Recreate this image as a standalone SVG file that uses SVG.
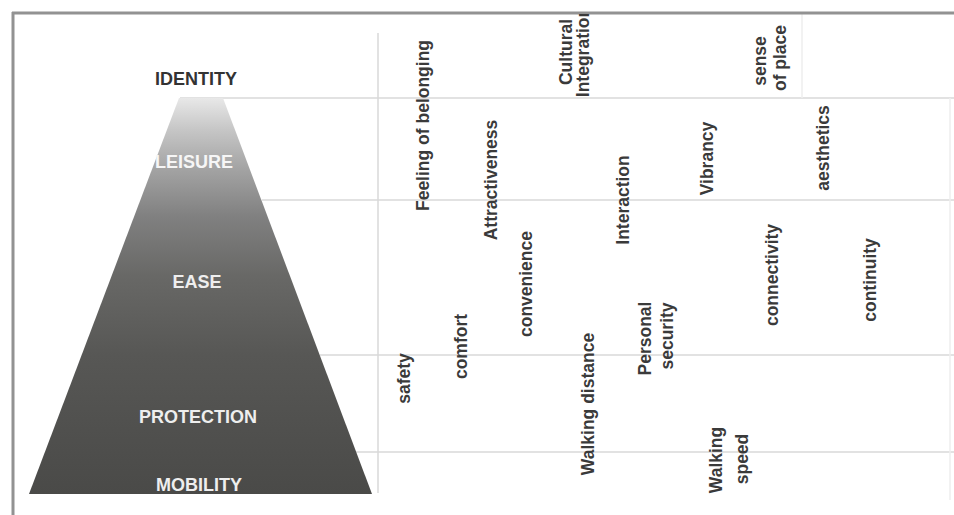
<svg xmlns="http://www.w3.org/2000/svg" width="954" height="515" viewBox="0 0 954 515">
  <style>
    .frame { stroke: #929292; stroke-width: 3; fill: none; }
    .grid { stroke: #d9d9d9; stroke-width: 1.5; fill: none; }
    .faint { stroke: #eeeeee; stroke-width: 1.5; fill: none; }
    .level { font-family: "Liberation Sans", Arial, sans-serif; font-weight: bold; font-size: 18px; text-anchor: middle; fill: #eeeeee; }
    .level.top { fill: #333333; }
    .factor { font-family: "Liberation Sans", Arial, sans-serif; font-weight: bold; font-size: 17.5px; text-anchor: middle; fill: #3a3a3a; }
  </style>
  <defs>
    <linearGradient id="pyramidFill" gradientUnits="userSpaceOnUse" x1="0" y1="98" x2="0" y2="494">
      <stop offset="0" stop-color="#e8e8e8"/>
      <stop offset="0.08" stop-color="#c6c6c6"/>
      <stop offset="0.18" stop-color="#a3a3a3"/>
      <stop offset="0.30" stop-color="#808080"/>
      <stop offset="0.45" stop-color="#686866"/>
      <stop offset="0.65" stop-color="#575755"/>
      <stop offset="1" stop-color="#4a4a48"/>
    </linearGradient>
    <clipPath id="frameClip">
      <rect x="14" y="14" width="940" height="501"/>
    </clipPath>
  </defs>

  <rect width="954" height="515" fill="#ffffff"/>

  <!-- table rules -->
  <g id="grid">
    <line class="grid" x1="180" y1="98" x2="954" y2="98"/>
    <line class="grid" x1="262" y1="200" x2="954" y2="200"/>
    <line class="grid" x1="320" y1="355" x2="954" y2="355"/>
    <line class="grid" x1="356" y1="452" x2="954" y2="452"/>
    <line class="grid" x1="378" y1="33" x2="378" y2="493"/>
    <line class="faint" x1="950" y1="98" x2="950" y2="500"/>
    <line class="faint" x1="802" y1="14" x2="802" y2="98"/>
  </g>

  <!-- outer frame -->
  <g id="frame">
    <line class="frame" x1="12" y1="13" x2="954" y2="13"/>
    <line class="frame" x1="13" y1="12" x2="13" y2="515"/>
  </g>

  <!-- hierarchy pyramid -->
  <g id="pyramid">
    <polygon points="179,98 223,98 372,494 29,494" fill="url(#pyramidFill)"/>
  </g>
  <g id="level-identity"><text class="level top" x="196" y="85">IDENTITY</text></g>
  <g id="level-leisure"><text class="level" x="194" y="168" style="fill:#f6f6f6">LEISURE</text></g>
  <g id="level-ease"><text class="level" x="197" y="288">EASE</text></g>
  <g id="level-protection"><text class="level" x="198" y="423">PROTECTION</text></g>
  <g id="level-mobility"><text class="level" x="199" y="491">MOBILITY</text></g>

  <!-- factors, written bottom-to-top -->
  <g id="factor-belonging"><text class="factor" transform="translate(428.5 125.5) rotate(-90)">Feeling of belonging</text></g>
  <g id="factor-cultural" clip-path="url(#frameClip)">
    <text class="factor" transform="translate(572 52) rotate(-90)">Cultural</text>
    <text class="factor" transform="translate(589 52) rotate(-90)">Integration</text>
  </g>
  <g id="factor-place">
    <text class="factor" transform="translate(766 61) rotate(-90)">sense</text>
    <text class="factor" transform="translate(786 58) rotate(-90)">of place</text>
  </g>
  <g id="factor-attractiveness"><text class="factor" transform="translate(497 180) rotate(-90)">Attractiveness</text></g>
  <g id="factor-interaction"><text class="factor" transform="translate(629 200) rotate(-90)">Interaction</text></g>
  <g id="factor-vibrancy"><text class="factor" transform="translate(713 158.5) rotate(-90)">Vibrancy</text></g>
  <g id="factor-aesthetics"><text class="factor" transform="translate(829 148) rotate(-90)">aesthetics</text></g>
  <g id="factor-convenience"><text class="factor" transform="translate(532 284) rotate(-90)">convenience</text></g>
  <g id="factor-comfort"><text class="factor" transform="translate(467 346.5) rotate(-90)">comfort</text></g>
  <g id="factor-safety"><text class="factor" transform="translate(410 378.5) rotate(-90)">safety</text></g>
  <g id="factor-walking-distance"><text class="factor" transform="translate(594 404) rotate(-90)">Walking distance</text></g>
  <g id="factor-security">
    <text class="factor" transform="translate(651 338.5) rotate(-90)">Personal</text>
    <text class="factor" transform="translate(673 336) rotate(-90)">security</text>
  </g>
  <g id="factor-connectivity"><text class="factor" transform="translate(778 275) rotate(-90)">connectivity</text></g>
  <g id="factor-continuity"><text class="factor" transform="translate(876 280) rotate(-90)">continuity</text></g>
  <g id="factor-walking-speed">
    <text class="factor" transform="translate(722 460) rotate(-90)">Walking</text>
    <text class="factor" transform="translate(748 459) rotate(-90)">speed</text>
  </g>
</svg>
